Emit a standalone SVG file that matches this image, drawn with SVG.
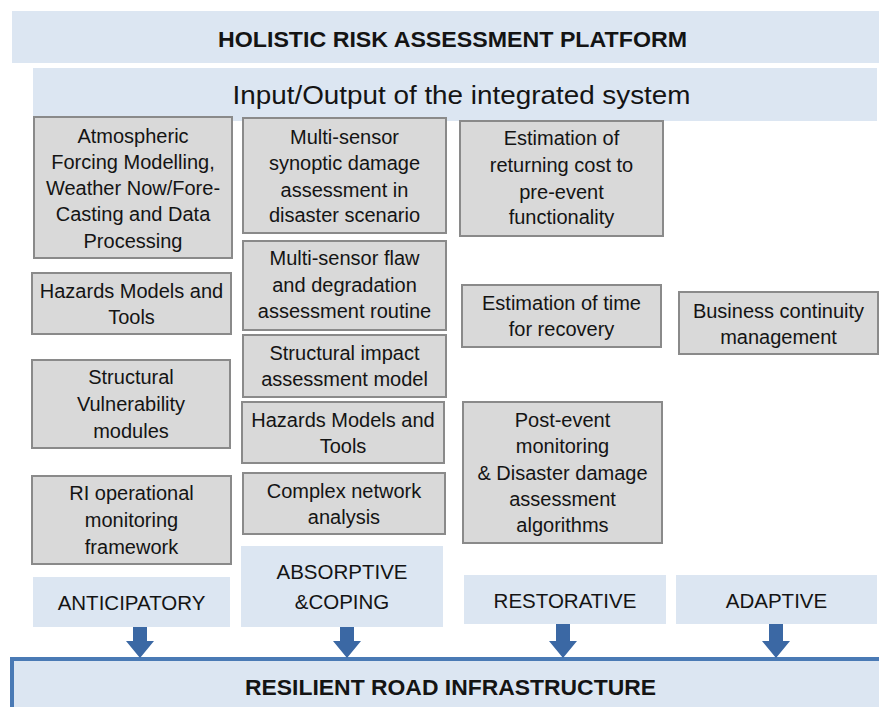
<svg xmlns="http://www.w3.org/2000/svg" width="879" height="707" viewBox="0 0 879 707">
<style>
  text { font-family: "Liberation Sans", Arial, sans-serif; fill: #141414; text-anchor: middle; }
  .band { fill: #dce6f2; }
  .box { fill: #d9d9d9; stroke: #8a8a8a; stroke-width: 2; }
  .lbl { font-size: 20px; }
  .cap { font-size: 20.5px; }
  .title { font-size: 22.5px; font-weight: bold; }
  .io { font-size: 26px; }
  .arrow { fill: #3b68a4; }
  .base { fill: #dce6f2; stroke: #4a7ab5; stroke-width: 4; }
</style>
<rect width="879" height="707" fill="#ffffff"/>

<g id="platform">
  <rect class="band" x="12" y="11" width="867" height="52"/>
  <text class="title" x="452.5" y="47" textLength="469" lengthAdjust="spacingAndGlyphs">HOLISTIC RISK ASSESSMENT PLATFORM</text>
</g>

<g id="io">
  <rect class="band" x="33" y="68" width="844" height="53"/>
  <text class="io" x="461.5" y="104" textLength="458" lengthAdjust="spacingAndGlyphs">Input/Output of the integrated system</text>
</g>

<g id="n-atmospheric">
  <rect class="box" x="34" y="117" width="198" height="141"/>
  <text class="lbl"><tspan x="133" y="143">Atmospheric</tspan><tspan x="133" y="169">Forcing Modelling,</tspan><tspan x="133" y="195">Weather Now/Fore-</tspan><tspan x="133" y="221">Casting and Data</tspan><tspan x="133" y="248">Processing</tspan></text>
</g>

<g id="n-hazards-1">
  <rect class="box" x="32" y="273" width="199" height="61"/>
  <text class="lbl"><tspan x="131.5" y="298">Hazards Models and</tspan><tspan x="131.5" y="324">Tools</tspan></text>
</g>

<g id="n-vulnerability">
  <rect class="box" x="32" y="360" width="198" height="88"/>
  <text class="lbl"><tspan x="131" y="384">Structural</tspan><tspan x="131" y="411">Vulnerability</tspan><tspan x="131" y="438">modules</tspan></text>
</g>

<g id="n-ri-monitoring">
  <rect class="box" x="32" y="476" width="199" height="88"/>
  <text class="lbl"><tspan x="131.5" y="500">RI operational</tspan><tspan x="131.5" y="527">monitoring</tspan><tspan x="131.5" y="554">framework</tspan></text>
</g>

<g id="n-synoptic">
  <rect class="box" x="243" y="118" width="203" height="115"/>
  <text class="lbl"><tspan x="344.5" y="144">Multi-sensor</tspan><tspan x="344.5" y="170">synoptic damage</tspan><tspan x="344.5" y="197">assessment in</tspan><tspan x="344.5" y="222">disaster scenario</tspan></text>
</g>

<g id="n-flaw">
  <rect class="box" x="243" y="241" width="203" height="89"/>
  <text class="lbl"><tspan x="344.5" y="265">Multi-sensor flaw</tspan><tspan x="344.5" y="292">and degradation</tspan><tspan x="344.5" y="318">assessment routine</tspan></text>
</g>

<g id="n-impact">
  <rect class="box" x="243" y="335" width="203" height="62"/>
  <text class="lbl"><tspan x="344.5" y="360">Structural impact</tspan><tspan x="344.5" y="386">assessment model</tspan></text>
</g>

<g id="n-hazards-2">
  <rect class="box" x="242" y="402" width="202" height="61"/>
  <text class="lbl"><tspan x="343" y="427">Hazards Models and</tspan><tspan x="343" y="453">Tools</tspan></text>
</g>

<g id="n-network">
  <rect class="box" x="243" y="473" width="202" height="61"/>
  <text class="lbl"><tspan x="344" y="498">Complex network</tspan><tspan x="344" y="524">analysis</tspan></text>
</g>

<g id="n-cost">
  <rect class="box" x="460" y="121" width="203" height="115"/>
  <text class="lbl"><tspan x="561.5" y="145">Estimation of</tspan><tspan x="561.5" y="172">returning cost to</tspan><tspan x="561.5" y="199">pre-event</tspan><tspan x="561.5" y="224">functionality</tspan></text>
</g>

<g id="n-time">
  <rect class="box" x="462" y="285" width="199" height="62"/>
  <text class="lbl"><tspan x="561.5" y="310">Estimation of time</tspan><tspan x="561.5" y="336">for recovery</tspan></text>
</g>

<g id="n-business">
  <rect class="box" x="679" y="292" width="199" height="62"/>
  <text class="lbl"><tspan x="778.5" y="318">Business continuity</tspan><tspan x="778.5" y="344">management</tspan></text>
</g>

<g id="n-post-event">
  <rect class="box" x="463" y="402" width="199" height="141"/>
  <text class="lbl"><tspan x="562.5" y="427">Post-event</tspan><tspan x="562.5" y="453">monitoring</tspan><tspan x="562.5" y="480">&amp; Disaster damage</tspan><tspan x="562.5" y="506">assessment</tspan><tspan x="562.5" y="532">algorithms</tspan></text>
</g>

<g id="n-anticipatory">
  <rect class="band" x="33" y="577" width="197" height="50"/>
  <text class="cap" x="131.5" y="610">ANTICIPATORY</text>
</g>

<g id="n-absorptive">
  <rect class="band" x="241" y="546" width="202" height="81"/>
  <text class="cap"><tspan x="342" y="579">ABSORPTIVE</tspan><tspan x="342" y="609">&amp;COPING</tspan></text>
</g>

<g id="n-restorative">
  <rect class="band" x="464" y="575" width="202" height="49"/>
  <text class="cap" x="565" y="608">RESTORATIVE</text>
</g>

<g id="n-adaptive">
  <rect class="band" x="676" y="575" width="201" height="49"/>
  <text class="cap" x="776.5" y="608">ADAPTIVE</text>
</g>

<g id="n-resilient">
  <rect class="base" x="12" y="659" width="880" height="60"/>
  <text class="title" x="450.5" y="695" textLength="411" lengthAdjust="spacingAndGlyphs">RESILIENT ROAD INFRASTRUCTURE</text>
</g>

<g id="connectors">
  <polygon class="arrow" points="133,627 147,627 147,641 154,641 140,658 126,641 133,641"/>
  <polygon class="arrow" points="340,627 354,627 354,641 361,641 347,658 333,641 340,641"/>
  <polygon class="arrow" points="556,624 570,624 570,641 577,641 563,658 549,641 556,641"/>
  <polygon class="arrow" points="769,624 783,624 783,641 790,641 776,658 762,641 769,641"/>
</g>
</svg>
